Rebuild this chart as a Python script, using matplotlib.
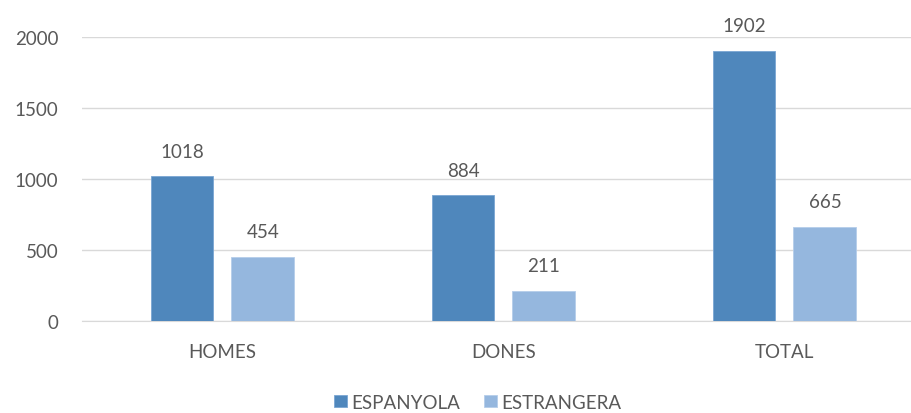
import numpy as np
import matplotlib.pyplot as plt

categories = ['HOMES', 'DONES', 'TOTAL']
espanyola = [1018, 884, 1902]
estrangera = [454, 211, 665]

plt.rcParams['font.family'] = ['Lato', 'DejaVu Sans']
text_c = '#595959'
fs = 13.5

fig = plt.figure(figsize=(9.12, 4.14), dpi=100)
ax = fig.add_axes([82 / 912, 92 / 414, 1 - 82 / 912, 284 / 414])

x = np.arange(len(categories))
w = 0.224
b1 = ax.bar(x - 0.144, espanyola, w, color='#4F87BC', edgecolor='#7aa6d3', linewidth=0.6, label='ESPANYOLA', zorder=3)
b2 = ax.bar(x + 0.144, estrangera, w, color='#95B7DE', edgecolor='#b5cdea', linewidth=0.6, label='ESTRANGERA', zorder=3)

for bars in (b1, b2):
    for r in bars:
        ax.annotate(str(int(r.get_height())), (r.get_x() + r.get_width() / 2, r.get_height()),
                    xytext=(0, 12), textcoords='offset points', ha='center', va='bottom',
                    fontsize=fs, color=text_c, annotation_clip=False)

ax.set_xlim(-0.5, 2.454)
ax.set_ylim(0, 2000)
ax.set_yticks([0, 500, 1000, 1500, 2000])
ax.yaxis.grid(True, color='#d9d9d9', linewidth=1, zorder=0)
ax.set_xticks(x)
ax.set_xticklabels(categories)
ax.tick_params(axis='both', length=0, labelsize=fs, colors=text_c)
ax.tick_params(axis='x', pad=16)
ax.tick_params(axis='y', pad=17)
for s in ['top', 'right', 'left']:
    ax.spines[s].set_visible(False)
ax.spines['bottom'].set_color('#d9d9d9')

fig.legend(loc='center', bbox_to_anchor=(0.524, 0.026), ncol=2, frameon=False,
           fontsize=fs, labelcolor=text_c, handlelength=0.65, handleheight=0.65,
           handletextpad=0.25, columnspacing=1.3)

plt.savefig('out.png', dpi=100)
